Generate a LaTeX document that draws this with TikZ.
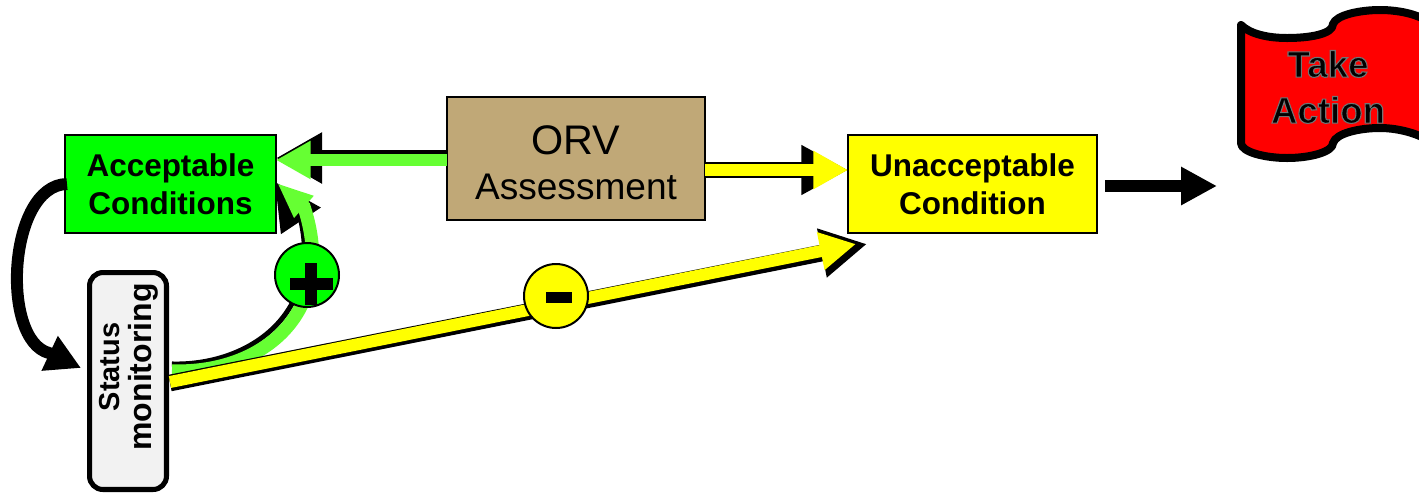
\documentclass[tikz,border=0pt]{standalone}
\usepackage{fontspec}
\setmainfont{Liberation Sans}
\newfontfamily\flagfont[UprightFont=* Bold,FakeBold=3]{Liberation Sans}
\usetikzlibrary{arrows.meta,calc}
\newcommand{\flagtext}[1]{\special{pdf:bcolor [0 0 0][0.45 0.45 0.45]}{\flagfont\fontsize{27.5}{35}\selectfont #1}\special{pdf:ecolor}}
\definecolor{lime}{RGB}{102,255,51}
\definecolor{tan}{RGB}{192,168,119}
\definecolor{panel}{RGB}{242,242,242}
\definecolor{pureyellow}{RGB}{255,255,0}
\definecolor{puregreen}{RGB}{0,255,0}
\definecolor{purered}{RGB}{255,0,0}
\tikzset{
  x=0.75pt,y=-0.75pt,
  condbox/.style={draw=black,line width=1.5pt,outer sep=0pt,inner sep=0pt,align=center,
    minimum width=#1*0.75pt,font=\bfseries\fontsize{23.6}{28.5}\selectfont},
  badge/.style={circle,draw=black,line width=1.5pt,minimum size=48pt,inner sep=0pt,outer sep=0pt},
}
\begin{document}
\begin{tikzpicture}
\useasboundingbox[clip] (0,0) rectangle (1419,494);

% flag
\draw[draw=black,fill=purered,line width=6pt,line join=round]
  (1241,25) .. controls (1250,34) and (1268,38) .. (1287,38)
  .. controls (1310,38) and (1333,34) .. (1333,24)
  .. controls (1336,15) and (1360,10) .. (1380,10)
  .. controls (1400,10) and (1425,15) .. (1435,28)
  -- (1435,146)
  .. controls (1425,135) and (1400,128) .. (1380,128)
  .. controls (1360,128) and (1336,133) .. (1333,143)
  .. controls (1333,152) and (1310,158) .. (1287,158)
  .. controls (1265,158) and (1241,152) .. (1241,143) -- cycle;
\node[inner sep=0pt] (take) at (1328,64) {\flagtext{Take}};
\node[inner sep=0pt] (action) at (1328,110) {\flagtext{Action}};

% boxes
\node[condbox=211,minimum height=73.5pt,fill=puregreen] (acc) at (170.5,184) {Acceptable\\Conditions};
\node[condbox=249,minimum height=73.5pt,fill=pureyellow] (unacc) at (972.5,184) {Unacceptable\\Condition};
\node[draw=black,line width=1.5pt,outer sep=0pt,inner sep=0pt,fill=tan,align=center,
  minimum width=193.5pt,minimum height=92.25pt] (orv) at (576,158.5)
  {\rule{0pt}{28pt}{\fontsize{31}{36}\selectfont ORV}\\[13.5pt]{\fontsize{27.8}{34}\selectfont Assessment}};
\node[draw=black,line width=3.8pt,rounded corners=10pt,fill=panel,outer sep=0pt,inner sep=0pt,
  minimum width=57.7pt,minimum height=162.7pt] (status) at (128,381) {};
\node[rotate=90,inner sep=0pt,align=center,font=\bfseries] (statustext) at (129,367)
  {{\fontsize{21.7}{28}\selectfont Status}\\[5pt]{\fontsize{24}{28}\selectfont monitoring}};

% acceptable -> status
\coordinate (loopa) at (8,185);
\coordinate (loopb) at (0,340);
\coordinate (loopc) at (49,353);
\draw[line width=9pt,-{Triangle[length=26pt,width=27pt]},black]
  ([shift={(2,0)}]acc.west) .. controls (loopa) and (loopb) .. (loopc) -- ([shift={(-8.5,-13)}]status.west);

% ORV -> acceptable
\draw[line width=12pt,black,-{Triangle[length=34.5pt,width=36pt]}]
  ([shift={(0,-0.5)}]orv.west) -- ([shift={(0,-26)}]acc.east);
\draw[line width=9pt,lime,-{Triangle[length=26pt,width=27pt]}]
  ([shift={(0,1.5)}]orv.west) -- ([shift={(0,-24)}]acc.east);

% ORV -> unacceptable
\draw[line width=12pt,black,-{Triangle[length=35pt,width=35pt]}]
  ([shift={(0,11.5)}]orv.east) -- ([shift={(0,-14)}]unacc.west);
\draw[line width=9pt,pureyellow,-{Triangle[length=26pt,width=27pt]}]
  ([shift={(0,11.5)}]orv.east) -- ([shift={(0,-14)}]unacc.west);

% status -> acceptable (plus)
\coordinate (pa1) at (245,366);
\coordinate (pa2) at (322,318);
\coordinate (pa3) at (301,221);
\coordinate (pg1) at (265,374);
\coordinate (pg2) at (338,310);
\coordinate (pg3) at (304,207);
\draw[line width=3.8pt,black,-{Triangle[length=35pt,width=35pt]}]
  ([shift={(5.5,-17)}]status.east) .. controls (pa1) and (pa2) .. (pa3) -- ([shift={(-1,-2)}]acc.east);
\draw[line width=10pt,lime,-{Triangle[length=27pt,width=20pt]}]
  ([shift={(5.5,-10)}]status.east) .. controls (pg1) and (pg2) .. (pg3) -- ([shift={(1,-1)}]acc.east);
\node[badge,fill=puregreen] (plus) at (307,275) {};
\fill[black] ($(plus)+(-17,3)$) rectangle ($(plus)+(26,15)$);
\fill[black] ($(plus)+(-2,-12)$) rectangle ($(plus)+(10,30)$);

% status -> unacceptable (minus)
\draw[line width=12.5pt,black,-{Triangle[length=34.5pt,width=35pt]}]
  ([shift={(3.5,2)}]status.east) -- ([shift={(-105.5,11)}]unacc.south);
\draw[line width=9pt,pureyellow,-{Triangle[length=27pt,width=27pt]}]
  ([shift={(3.5,1)}]status.east) -- ([shift={(-116.5,11)}]unacc.south);
\node[badge,fill=pureyellow] (minus) at (556,296) {};
\fill[black] ($(minus)+(-10,-4)$) rectangle ($(minus)+(16,7)$);

% unacceptable -> take action
\coordinate (acttip) at (1217,186);
\draw[line width=9pt,black,-{Triangle[length=27pt,width=27pt]}]
  ([shift={(8,2)}]unacc.east) -- (acttip);
\end{tikzpicture}
\end{document}
